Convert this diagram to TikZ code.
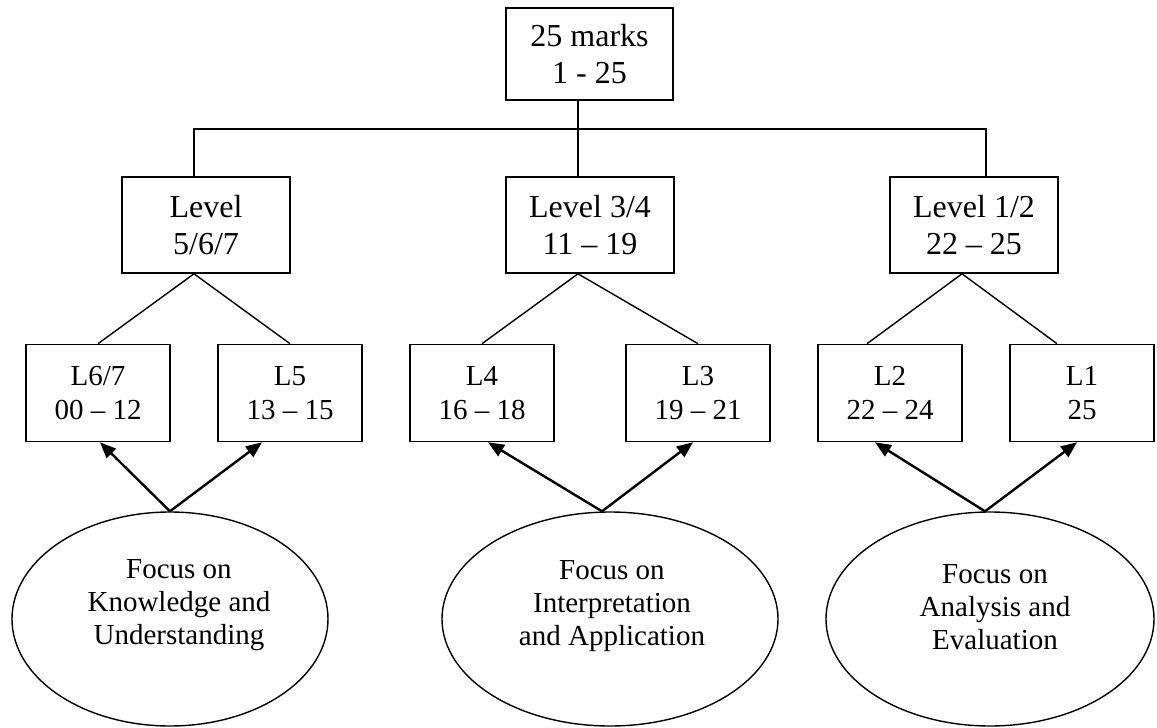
\documentclass[tikz,border=0pt]{standalone}
\usepackage{fontspec}
\setmainfont{Liberation Serif}
\usetikzlibrary{arrows.meta,shapes.geometric}
\begin{document}
\begin{tikzpicture}[x=0.5pt,y=-0.5pt,>={Triangle[length=8pt,width=6.5pt]},
    bigbox/.style={draw,line width=0.8pt,inner sep=0pt,align=center,minimum width=84pt,minimum height=48pt,font=\fontsize{16}{18.8}\selectfont},
    smallbox/.style={draw,line width=0.8pt,inner sep=0pt,align=center,minimum width=72pt,minimum height=48.5pt,font=\fontsize{14.5}{16.7}\selectfont},
    focus/.style={draw,ellipse,line width=0.7pt,inner sep=0pt,minimum height=107pt},
    focustxt/.style={align=center,inner sep=0pt,font=\fontsize{14.5}{16.5}\selectfont},
    link/.style={line width=0.7pt},
    push/.style={->,line width=1.2pt}]
    \useasboundingbox(0,0)rectangle(1157,728);
    \node[bigbox,minimum width=83.5pt,minimum height=46pt](top)at(589.5,54){25 marks\\1 - 25};
    \node[bigbox](lvA)at(206,225){Level\\5/6/7};
    \node[bigbox](lvB)at(590,225){Level 3/4\\11 – 19};
    \node[bigbox](lvC)at(974,225){Level 1/2\\22 – 25};
    \node[smallbox](l67)at(98,393){L6/7\\00 – 12};
    \node[smallbox](l5)at(290,393){L5\\13 – 15};
    \node[smallbox](l4)at(482,393){L4\\16 – 18};
    \node[smallbox](l3)at(698,393){L3\\19 – 21};
    \node[smallbox](l2)at(890,393){L2\\22 – 24};
    \node[smallbox](l1)at(1082,393){L1\\25};
    \node[focus,minimum width=158pt](fk)at(170,619){};
    \node[focus,minimum width=168pt](fi)at(610,619){};
    \node[focus,minimum width=164pt](fa)at(990,619){};
    \node[focustxt](fkt)at(179,605){Focus on\\Knowledge and\\Understanding};
    \node[focustxt](fit)at(612,606){Focus on\\Interpretation\\and Application};
    \node[focustxt](fat)at(995,607){Focus on\\Analysis and\\Evaluation};
    \coordinate(busL)at(194,129);
    \coordinate(busR)at(986,129);
    \draw[link]([xshift=-6pt]lvA.north)--(busL)--(busR)--([xshift=6pt]lvC.north);
    \draw[link]([xshift=-5.75pt]top.south)--([xshift=-6pt]lvB.north);
    \draw[link](l67.north)--([xshift=-6pt]lvA.south)--(l5.north);
    \draw[link](l4.north)--([xshift=-6pt]lvB.south)--(l3.north);
    \draw[link]([xshift=-11.5pt]l2.north)--([xshift=-6pt]lvC.south)--([xshift=-12.5pt]l1.north);
    \draw[push](fk.north)--([xshift=1pt]l67.south);
    \draw[push](fk.north)--([xshift=-14pt]l5.south);
    \draw[push]([xshift=-4pt]fi.north)--([xshift=3pt]l4.south);
    \draw[push]([xshift=-4pt]fi.north)--([xshift=-2.5pt]l3.south);
    \draw[push]([xshift=-2.5pt]fa.north)--([xshift=-7.5pt]l2.south);
    \draw[push]([xshift=-2.5pt]fa.north)--([xshift=-2.5pt]l1.south);
\end{tikzpicture}
\end{document}
